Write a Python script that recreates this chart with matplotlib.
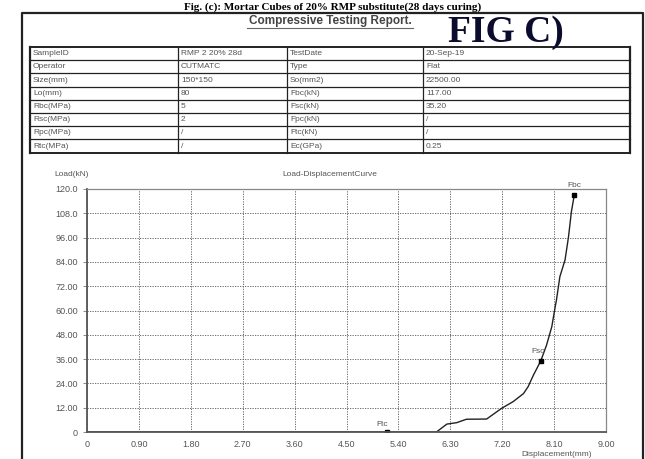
import matplotlib
matplotlib.use("Agg")
import matplotlib.pyplot as plt

W, H = 645, 459

# table of the report header
table_rows = [
    ["SampleID", "RMP 2 20% 28d", "TestDate", "20-Sep-19"],
    ["Operator", "CUTMATC", "Type", "Flat"],
    ["Size(mm)", "150*150", "So(mm2)", "22500.00"],
    ["Lo(mm)", "80", "Fbc(kN)", "117.00"],
    ["Rbc(MPa)", "5", "Fsc(kN)", "35.20"],
    ["Rsc(MPa)", "2", "Fpc(kN)", "/"],
    ["Rpc(MPa)", "/", "Ftc(kN)", "/"],
    ["Rtc(MPa)", "/", "Ec(GPa)", "0.25"],
]

# load-displacement curve
disp = [0.0, 0.9, 1.8, 2.7, 3.6, 4.5, 5.2, 5.9, 6.06, 6.24, 6.41, 6.58, 6.93,
        7.19, 7.39, 7.57, 7.65, 7.74, 7.87, 7.97, 8.06, 8.12, 8.14, 8.20,
        8.29, 8.35, 8.40, 8.45]
load = [0.0, 0.0, 0.0, 0.0, 0.0, 0.0, 0.0, 0.0, 0.0, 3.9, 4.6, 6.3, 6.4,
        11.7, 15.0, 19.0, 22.4, 28.0, 35.2, 43.0, 52.0, 62.0, 65.0, 76.7,
        85.0, 96.4, 108.8, 117.0]

# marked points
pts = {"Ftc": (5.20, 0.0), "Fsc": (7.87, 35.2), "Fbc": (8.45, 117.0)}

xticks = [0, 0.9, 1.8, 2.7, 3.6, 4.5, 5.4, 6.3, 7.2, 8.1, 9.0]
xlabels = ["0", "0.90", "1.80", "2.70", "3.60", "4.50", "5.40", "6.30",
           "7.20", "8.10", "9.00"]
yticks = [0, 12, 24, 36, 48, 60, 72, 84, 96, 108, 120]
ylabels = ["0", "12.00", "24.00", "36.00", "48.00", "60.00", "72.00",
           "84.00", "96.00", "108.0", "120.0"]

plt.rcParams['font.family'] = ['Liberation Sans', 'DejaVu Sans']
fig = plt.figure(figsize=(W / 100, H / 100), dpi=100)

# overlay in pixel coordinates for the page items
page = fig.add_axes([0, 0, 1, 1])
page.set_xlim(0, W)
page.set_ylim(H, 0)
page.axis("off")

grey = "#555555"

# caption above the frame (cut off in the scan, kept whole here)
page.text(333, 9.5, "Fig. (c): Mortar Cubes of 20% RMP substitute(28 days curing)",
          family="Liberation Serif", weight="bold", fontsize=8,
          ha="center", va="baseline", color="black")

# outer frame
page.plot([22, 22, 643, 643], [H + 5, 13, 13, H + 5], color="#222222", lw=1.6)

page.text(330, 21, "Compressive Testing Report.", fontsize=8.5, weight="bold",
          color="#444444", ha="center", va="center")
page.plot([247, 413], [27.5, 27.5], color="#666666", lw=0.8)

page.text(506, 33, "FIG C)", family="Liberation Serif", weight="bold",
          fontsize=27, color="#0b0b2e", ha="center", va="center")

# table
col_x = [30, 178, 287, 423, 630]
row_top = 47
row_h = 13.2
n = len(table_rows)
for i in range(n + 1):
    y = row_top + i * row_h
    lw = 1.4 if i in (0, n) else 0.9
    page.plot([col_x[0], col_x[-1]], [y, y], color="#222222", lw=lw)
for j, x in enumerate(col_x):
    lw = 1.6 if j in (0, len(col_x) - 1) else 0.9
    page.plot([x, x], [row_top, row_top + n * row_h], color="#222222", lw=lw)
for i, row in enumerate(table_rows):
    y = row_top + (i + 0.5) * row_h
    for j, val in enumerate(row):
        page.text(col_x[j] + 3, y, val, fontsize=6, color="#555555",
                  ha="left", va="center")

page.text(72, 175, "Load(kN)", fontsize=6, color=grey, ha="center", va="center")
page.text(330, 175, "Load-DisplacementCurve", fontsize=6, color=grey,
          ha="center", va="center")
page.text(557, 454, "Displacement(mm)", fontsize=6, color=grey,
          ha="center", va="center")

# chart
ax = fig.add_axes([87 / W, 1 - 432 / H, (606 - 87) / W, (432 - 189) / H])
ax.plot(disp, load, color="#222222", lw=1.0)
for name, (px, py) in pts.items():
    ax.plot(px, py, marker="s", ms=2.5, color="black")
offs = {"Ftc": (-0.08, 3.5), "Fsc": (-0.05, 4.5), "Fbc": (0.0, 4.5)}
for name, (px, py) in pts.items():
    dx, dy = offs[name]
    ax.text(px + dx, py + dy, name, fontsize=6, color=grey,
            ha="center", va="center")

ax.set_xlim(0, 9)
ax.set_ylim(0, 120)
ax.set_xticks(xticks)
ax.set_xticklabels(xlabels)
ax.set_yticks(yticks)
ax.set_yticklabels(ylabels)
ax.tick_params(axis="both", labelsize=6.5, labelcolor=grey, colors="#777777",
               length=3, width=0.6)
ax.tick_params(axis="x", length=0, pad=6)
ax.grid(True, linestyle=(0, (1.5, 1.5)), color="#555555", lw=0.6)
for s in ("top", "right"):
    ax.spines[s].set_color("#888888")
    ax.spines[s].set_linewidth(0.9)
for s in ("left", "bottom"):
    ax.spines[s].set_color("#555555")
    ax.spines[s].set_linewidth(1.3)

fig.savefig("out.png", dpi=100)
